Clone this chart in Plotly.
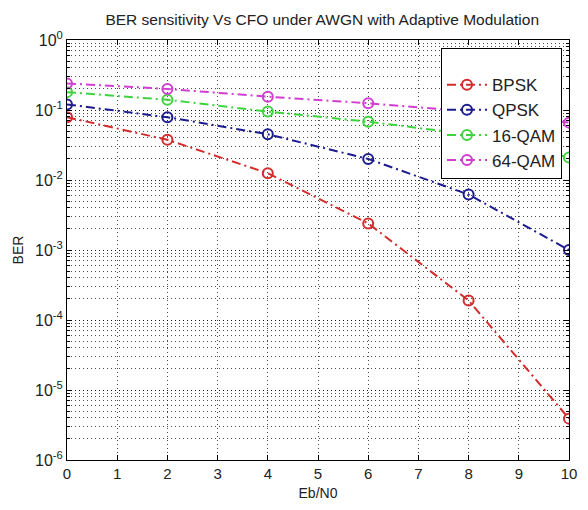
import plotly.graph_objects as go

ebn0 = [0, 2, 4, 6, 8, 10]
ber_bpsk = [0.079, 0.0375, 0.0125, 0.0024, 0.00019, 3.9e-6]
ber_qpsk = [0.12, 0.079, 0.045, 0.020, 0.0062, 0.001]
ber_16qam = [0.18, 0.14, 0.095, 0.068, 0.045, 0.021]
ber_64qam = [0.24, 0.20, 0.155, 0.125, 0.095, 0.066]
series_names = ["BPSK", "QPSK", "16-QAM", "64-QAM"]
colors = ["#d22c2c", "#1c1c8f", "#3ed43e", "#d23ed2"]
ytick_vals = [1, 0.1, 0.01, 1e-3, 1e-4, 1e-5, 1e-6]
ytick_text = ["10<sup>0</sup>", "10<sup>-1</sup>", "10<sup>-2</sup>", "10<sup>-3</sup>",
              "10<sup>-4</sup>", "10<sup>-5</sup>", "10<sup>-6</sup>"]

fig = go.Figure()
for name, ys, c in zip(series_names, [ber_bpsk, ber_qpsk, ber_16qam, ber_64qam], colors):
    fig.add_trace(go.Scatter(
        x=ebn0, y=ys, name=name, mode="lines+markers",
        line=dict(color=c, width=2, dash="9px,4px,2px,4px"),
        marker=dict(symbol="circle-open", size=10, color=c, line=dict(width=2)),
    ))

font = "Liberation Sans, Arial, sans-serif"
grid = "rgba(0,0,0,0.7)"
gdash = "1px,3px"
fig.update_layout(
    width=588, height=510,
    margin=dict(l=67, r=11, t=40, b=43),
    paper_bgcolor="white", plot_bgcolor="white",
    font=dict(family=font, size=14, color="#222"),
    title=dict(text="BER sensitivity Vs CFO under AWGN with Adaptive Modulation",
               x=0.548, xanchor="center", y=0.962, yanchor="middle",
               font=dict(size=15.5, color="#222")),
    legend=dict(x=0.986, xanchor="right", y=0.981, yanchor="top",
                bordercolor="black", borderwidth=1, bgcolor="white",
                font=dict(size=17, color="#222"), tracegroupgap=0,
                itemwidth=40, title=dict(text=" ", font=dict(size=14))),
    xaxis=dict(range=[0, 10], dtick=1, showline=True, linecolor="black", linewidth=1,
               mirror="ticks", ticks="inside", ticklen=5, tickcolor="black",
               showgrid=True, gridcolor=grid, griddash=gdash, gridwidth=1,
               zeroline=False, title=dict(text="Eb/N0", standoff=7, font=dict(size=14)),
               tickfont=dict(size=15)),
    yaxis=dict(type="log", range=[-6, 0], showline=True, linecolor="black", linewidth=1,
               mirror="ticks", ticks="inside", ticklen=5, tickcolor="black",
               tickvals=ytick_vals, ticktext=ytick_text,
               showgrid=True, gridcolor=grid, griddash=gdash, gridwidth=1,
               minor=dict(dtick="D1", ticks="inside", ticklen=3, tickcolor="black", showgrid=True,
                          gridcolor=grid, griddash=gdash, gridwidth=1),
               zeroline=False, title=dict(text="BER", standoff=8, font=dict(size=14)),
               tickfont=dict(size=16)),
)
fig.write_html("out.html", config={"displayModeBar": False},
               post_script="document.body.style.margin='0';document.body.style.overflow='hidden';")
